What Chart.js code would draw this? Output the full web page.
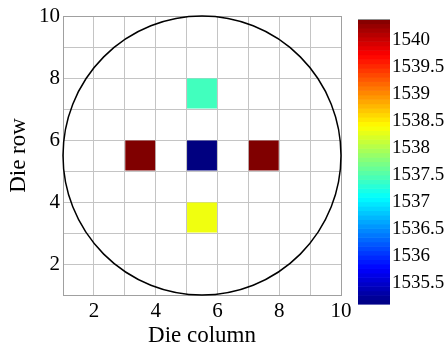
<!DOCTYPE html>
<html>
<head>
<meta charset="utf-8">
<script src="https://cdn.jsdelivr.net/npm/chart.js@4"></script>
<style>
  html, body { margin: 0; padding: 0; background: #ffffff; overflow: hidden; }
  #wrap { position: relative; width: 448px; height: 347px; }
  canvas { position: absolute; left: 0; top: 0; }
</style>
</head>
<body>
<div id="wrap">
  <canvas id="map" width="448" height="347"></canvas>
  <canvas id="bar" width="448" height="347"></canvas>
</div>
<script>
// ---- data ----
const xTicks = [1, 2, 3, 4, 5, 6, 7, 8, 9, 10];
const yTicks = [1, 2, 3, 4, 5, 6, 7, 8, 9, 10];
const shownTickLabels = [2, 4, 6, 8, 10];
// die cells: lower-left corner (column, row) and measured value
const cellCols = [5, 3, 5, 7, 5];
const cellRows = [7, 5, 5, 5, 3];
const cellValues = [1537.43, 1540.38, 1535.12, 1540.38, 1538.33];
// wafer outline
const waferCenter = [5.5, 5.5];
const waferRadius = 4.5;
// colour bar
const cbMin = 1535.12;
const cbMax = 1540.38;
const cbTicks = [1535.5, 1536, 1536.5, 1537, 1537.5, 1538, 1538.5, 1539, 1539.5, 1540];
const cbLevels = 64;

// ---- jet colormap ----
function clamp01(v) { return Math.max(0, Math.min(1, v)); }
function jet(t) {
  const r = clamp01(1.5 - Math.abs(4 * t - 3));
  const g = clamp01(1.5 - Math.abs(4 * t - 2));
  const b = clamp01(1.5 - Math.abs(4 * t - 1));
  return 'rgb(' + Math.round(r * 255) + ',' + Math.round(g * 255) + ',' + Math.round(b * 255) + ')';
}
function colorFor(v) { return jet(clamp01((v - cbMin) / (cbMax - cbMin))); }

const SERIF = "'Liberation Serif', 'Times New Roman', serif";
const GRID = '#c4c4c4';
const FRAME = '#a0a0a0';

const cellPlugin = {
  id: 'cells',
  beforeDatasetsDraw(chart) {
    const ctx = chart.ctx, xs = chart.scales.x, ys = chart.scales.y;
    ctx.save();
    for (let i = 0; i < cellValues.length; i++) {
      const x0 = xs.getPixelForValue(cellCols[i]);
      const x1 = xs.getPixelForValue(cellCols[i] + 1);
      const y0 = ys.getPixelForValue(cellRows[i] + 1);
      const y1 = ys.getPixelForValue(cellRows[i]);
      ctx.fillStyle = colorFor(cellValues[i]);
      ctx.fillRect(x0 + 0.5, y0 + 0.5, x1 - x0 - 1, y1 - y0 - 1);
    }
    ctx.restore();
  },
  afterDatasetsDraw(chart) {
    const ctx = chart.ctx, xs = chart.scales.x, ys = chart.scales.y;
    const cx = xs.getPixelForValue(waferCenter[0]);
    const cy = ys.getPixelForValue(waferCenter[1]);
    const rx = Math.abs(xs.getPixelForValue(waferCenter[0] + waferRadius) - cx);
    const ry = Math.abs(ys.getPixelForValue(waferCenter[1] + waferRadius) - cy);
    ctx.save();
    ctx.beginPath();
    ctx.ellipse(cx, cy, rx, ry, 0, 0, Math.PI * 2);
    ctx.strokeStyle = '#000000';
    ctx.lineWidth = 1.5;
    ctx.stroke();
    ctx.restore();
  }
};

function gridColor(c) {
  return (c.tick && c.tick.value === 10) ? FRAME : GRID;
}

new Chart(document.getElementById('map'), {
  type: 'scatter',
  data: { datasets: [{ data: [], pointRadius: 0 }] },
  options: {
    responsive: false,
    animation: false,
    events: [],
    layout: { padding: { left: 0, right: 107, top: 16, bottom: 0 } },
    plugins: { legend: { display: false }, tooltip: { enabled: false } },
    scales: {
      x: {
        type: 'linear', min: 1, max: 10,
        afterBuildTicks: s => { s.ticks = xTicks.map(v => ({ value: v })); },
        afterFit: s => { s.height = 52; },
        grid: { color: gridColor, lineWidth: 1, drawTicks: false },
        border: { display: true, color: FRAME, width: 1 },
        ticks: {
          padding: 4, color: '#000', maxRotation: 0, autoSkip: false,
          font: { family: SERIF, size: 21, lineHeight: 1.2 },
          callback: v => shownTickLabels.includes(v) ? String(v) : ''
        },
        title: { display: true, text: 'Die column', color: '#000',
          font: { family: SERIF, size: 23, lineHeight: 1.0 }, padding: { top: 0, bottom: 0 } }
      },
      y: {
        type: 'linear', min: 1, max: 10,
        afterBuildTicks: s => { s.ticks = yTicks.map(v => ({ value: v })); },
        afterFit: s => { s.width = 63; },
        grid: { color: gridColor, lineWidth: 1, drawTicks: false },
        border: { display: true, color: FRAME, width: 1 },
        ticks: {
          padding: 3, color: '#000', autoSkip: false,
          font: { family: SERIF, size: 21, lineHeight: 1.2 },
          callback: v => shownTickLabels.includes(v) ? String(v) : ''
        },
        title: { display: true, text: 'Die row', color: '#000',
          font: { family: SERIF, size: 23, lineHeight: 1.0 }, padding: { top: 7.5, bottom: 0 } }
      }
    }
  },
  plugins: [cellPlugin]
});

const barPlugin = {
  id: 'colorbar',
  beforeDatasetsDraw(chart) {
    const ctx = chart.ctx, ys = chart.scales.y, a = chart.chartArea;
    ctx.save();
    for (let i = 0; i < cbLevels; i++) {
      const v0 = cbMin + (cbMax - cbMin) * i / cbLevels;
      const v1 = cbMin + (cbMax - cbMin) * (i + 1) / cbLevels;
      const p0 = ys.getPixelForValue(v0);
      const p1 = ys.getPixelForValue(v1);
      ctx.fillStyle = jet((i + 0.5) / cbLevels);
      ctx.fillRect(a.left, p1, a.right - a.left, p0 - p1 + 0.6);
    }
    ctx.strokeStyle = '#909090';
    ctx.lineWidth = 1;
    ctx.beginPath();
    ctx.moveTo(a.left, a.top + 0.5);
    ctx.lineTo(a.right, a.top + 0.5);
    ctx.stroke();
    ctx.restore();
  }
};

new Chart(document.getElementById('bar'), {
  type: 'scatter',
  data: { datasets: [{ data: [], pointRadius: 0 }] },
  options: {
    responsive: false,
    animation: false,
    events: [],
    layout: { padding: { left: 358, right: 0, top: 19, bottom: 43 } },
    plugins: { legend: { display: false }, tooltip: { enabled: false } },
    scales: {
      x: { display: false, min: 0, max: 1 },
      y: {
        type: 'linear', position: 'right', min: cbMin, max: cbMax,
        afterBuildTicks: s => { s.ticks = cbTicks.map(v => ({ value: v })); },
        afterFit: s => { s.width = 58; },
        grid: { display: false, drawTicks: false },
        border: { display: false },
        ticks: {
          padding: 2, color: '#000', autoSkip: false,
          font: { family: SERIF, size: 19, lineHeight: 1.2 },
          callback: v => String(v)
        }
      }
    }
  },
  plugins: [barPlugin]
});
</script>
</body>
</html>
